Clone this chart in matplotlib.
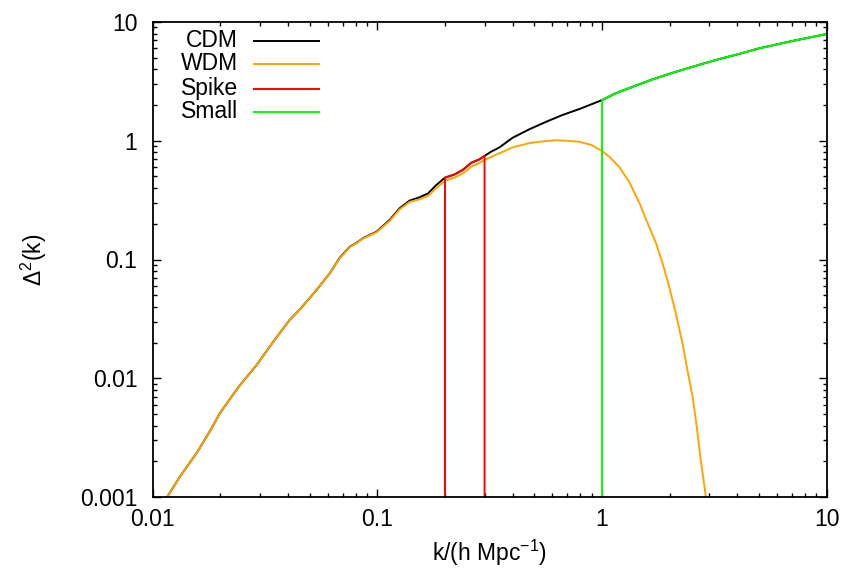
import matplotlib
matplotlib.use("Agg")
import matplotlib.pyplot as plt
from matplotlib.ticker import FixedLocator, FixedFormatter, LogLocator, NullFormatter

plt.rcParams['font.family'] = ['Liberation Sans', 'DejaVu Sans']

# ---------------- data ----------------
cdm_k = [0.0100, 0.0116, 0.0132, 0.0157, 0.0180, 0.0199, 0.0228, 0.0244, 0.0290, 0.0344,
         0.0407, 0.0452, 0.0536, 0.0614, 0.0679, 0.0753, 0.0807, 0.0863, 0.0990, 0.1136,
         0.1256, 0.139, 0.154, 0.168, 0.183, 0.200, 0.221, 0.240, 0.262, 0.285, 0.300,
         0.321, 0.338, 0.350, 0.400, 0.475, 0.564, 0.668, 0.793, 1.00, 1.15, 1.37, 1.68,
         2.13, 2.62, 3.21, 4.07, 5.00, 7.03, 10.0]
cdm_d = [0.00065, 0.00100, 0.00148, 0.00235, 0.00360, 0.00507, 0.0073, 0.0087, 0.0129, 0.0203,
         0.0310, 0.0380, 0.0553, 0.0766, 0.103, 0.128, 0.138, 0.151, 0.171, 0.216,
         0.270, 0.313, 0.334, 0.360, 0.424, 0.489, 0.521, 0.568, 0.653, 0.698, 0.745,
         0.809, 0.850, 0.881, 1.06, 1.25, 1.445, 1.65, 1.85, 2.20, 2.51, 2.85, 3.29,
         3.81, 4.28, 4.79, 5.38, 6.00, 6.92, 7.92]

wdm_k = [0.0100, 0.0116, 0.0132, 0.0157, 0.0180, 0.0199, 0.0228, 0.0244, 0.0290, 0.0344,
         0.0407, 0.0452, 0.0536, 0.0614, 0.0679, 0.0753, 0.0807, 0.0863, 0.0990, 0.1136,
         0.1256, 0.139, 0.154, 0.168, 0.183, 0.200, 0.221, 0.240, 0.262, 0.285, 0.300,
         0.321, 0.338, 0.350, 0.400, 0.475, 0.550, 0.625, 0.700, 0.793, 0.900, 1.00, 1.077,
         1.19, 1.32, 1.47, 1.596, 1.74, 1.86, 1.99, 2.13, 2.28, 2.40, 2.53, 2.64, 2.75,
         2.88, 3.00]
wdm_d = [0.00065, 0.00100, 0.00148, 0.00235, 0.00360, 0.00507, 0.0073, 0.0087, 0.0129, 0.0203,
         0.0310, 0.0380, 0.0553, 0.0766, 0.102, 0.127, 0.137, 0.150, 0.169, 0.212,
         0.264, 0.305, 0.321, 0.343, 0.400, 0.461, 0.490, 0.530, 0.605, 0.650, 0.689,
         0.730, 0.765, 0.784, 0.880, 0.955, 0.990, 1.010, 1.000, 0.980, 0.920, 0.820, 0.734,
         0.605, 0.452, 0.297, 0.202, 0.137, 0.093, 0.059, 0.0352, 0.0197, 0.0117, 0.0070,
         0.0039, 0.00205, 0.0011, 0.00055]

spike_k = [0.200, 0.200, 0.221, 0.240, 0.262, 0.285, 0.300, 0.300]
spike_d = [1e-6, 0.489, 0.521, 0.568, 0.653, 0.698, 0.745, 1e-6]

small_k = [1.00, 1.00, 1.15, 1.37, 1.68, 2.13, 2.62, 3.21, 4.07, 5.00, 7.03, 10.0]
small_d = [1e-6, 2.20, 2.51, 2.85, 3.29, 3.81, 4.28, 4.79, 5.38, 6.00, 6.92, 7.92]

series_names = ["CDM", "WDM", "Spike", "Small"]
series_colors = ["#000000", "#ffa500", "#ff0000", "#00ff00"]

xticks = [0.01, 0.1, 1, 10]
xtick_labels = ["0.01", "0.1", "1", "10"]
yticks = [0.001, 0.01, 0.1, 1, 10]
ytick_labels = ["0.001", "0.01", "0.1", "1", "10"]

# ---------------- figure ----------------
W, H = 843, 571
fig = plt.figure(figsize=(W / 100, H / 100), dpi=100)
ax = fig.add_axes([152.7 / W, 1 - 497 / H, (826.7 - 152.7) / W, (497 - 22) / H])

FS = 16.5
lw = 1.4
data = [(cdm_k, cdm_d), (wdm_k, wdm_d), (spike_k, spike_d), (small_k, small_d)]
for (k, d), c in zip(data, series_colors):
    ax.plot(k, d, color=c, lw=lw, solid_joinstyle='round')

ax.set_xscale('log')
ax.set_yscale('log')
ax.set_xlim(0.01, 10)
ax.set_ylim(0.001, 10)

ax.xaxis.set_major_locator(FixedLocator(xticks))
ax.xaxis.set_major_formatter(FixedFormatter(xtick_labels))
ax.yaxis.set_major_locator(FixedLocator(yticks))
ax.yaxis.set_major_formatter(FixedFormatter(ytick_labels))
ax.xaxis.set_minor_locator(LogLocator(base=10, subs=range(2, 10)))
ax.yaxis.set_minor_locator(LogLocator(base=10, subs=range(2, 10)))
ax.xaxis.set_minor_formatter(NullFormatter())
ax.yaxis.set_minor_formatter(NullFormatter())

ax.tick_params(which='both', direction='in', top=True, right=True, width=1.0, color='black')
ax.tick_params(which='major', length=5.5)
ax.tick_params(which='minor', length=3)
ax.tick_params(axis='x', which='major', labelsize=FS, pad=8)
ax.tick_params(axis='y', which='major', labelsize=FS, pad=11)
for s in ax.spines.values():
    s.set_linewidth(1.3)

ax.set_xlabel(r"k/(h Mpc$^{\mathregular{-1}}$)", fontsize=FS, labelpad=5)
ax.set_ylabel(r"$\mathregular{\Delta}^{\mathregular{2}}$(k)", fontsize=FS, labelpad=22)

# legend (gnuplot style: right-aligned text followed by a line sample)
rows_y = [40.7, 64.0, 88.7, 112.0]
for name, c, py in zip(series_names, series_colors, rows_y):
    yf = 1 - py / H
    fig.text(238 / W, yf, name, ha='right', va='center', fontsize=FS)
    fig.add_artist(plt.Line2D([254 / W, 319 / W], [yf, yf], color=c, lw=lw,
                              transform=fig.transFigure))

fig.savefig("out.png", dpi=100)
